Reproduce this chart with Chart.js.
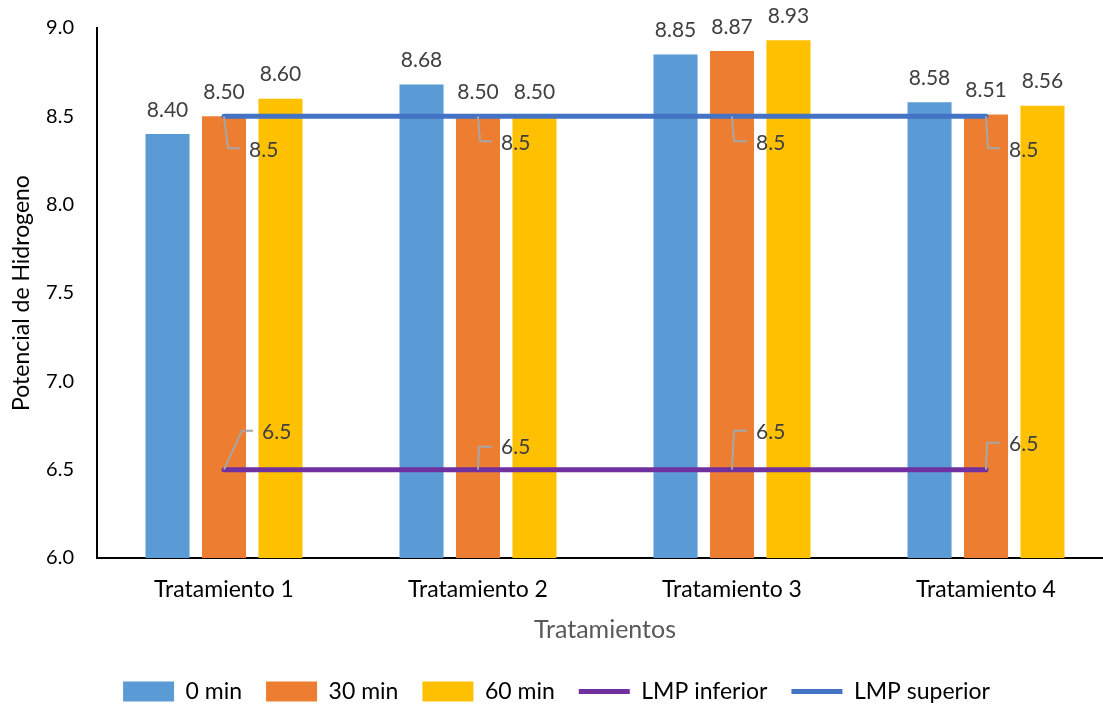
<!DOCTYPE html>
<html>
<head>
<meta charset="utf-8">
<script src="https://cdn.jsdelivr.net/npm/chart.js@4"></script>
<style>
  html, body { margin: 0; padding: 0; overflow: hidden; background: #fff; }
  #wrap { width: 1115px; height: 713px; }
</style>
</head>
<body>
<div id="wrap"><canvas id="grafico"></canvas></div>
<script>
// Datos de pH por tratamiento
const categorias = ['Tratamiento 1', 'Tratamiento 2', 'Tratamiento 3', 'Tratamiento 4'];
const min0 = [8.40, 8.68, 8.85, 8.58];
const min30 = [8.50, 8.50, 8.87, 8.51];
const min60 = [8.60, 8.50, 8.93, 8.56];
const lmpInferior = [6.5, 6.5, 6.5, 6.5];
const lmpSuperior = [8.5, 8.5, 8.5, 8.5];
const ticksY = [6.0, 6.5, 7.0, 7.5, 8.0, 8.5, 9.0];

const FONT = 'Lato, "Open Sans", sans-serif';

// Posición de las etiquetas de las líneas LMP (codo de la guía y texto, relativo al punto)
const guiasSuperior = [
  { cx: 4, cy: 32, ex: 16, tx: 25, ty: 34 },
  { cx: 2, cy: 25, ex: 14, tx: 23, ty: 27 },
  { cx: 2, cy: 25, ex: 15, tx: 24, ty: 27 },
  { cx: 2, cy: 32, ex: 14, tx: 23, ty: 34 }
];
const guiasInferior = [
  { cx: 18, cy: -39, ex: 29, tx: 38, ty: -37 },
  { cx: 1, cy: -23, ex: 14, tx: 23, ty: -22 },
  { cx: 2, cy: -39, ex: 15, tx: 24, ty: -37 },
  { cx: 1, cy: -27, ex: 14, tx: 23, ty: -25 }
];

const etiquetas = {
  id: 'etiquetas',
  afterDatasetsDraw(chart) {
    const ctx = chart.ctx;
    ctx.save();
    ctx.font = '21px ' + FONT;
    ctx.fillStyle = '#404040';
    chart.data.datasets.forEach((ds, i) => {
      const meta = chart.getDatasetMeta(i);
      if (meta.hidden) return;
      if (ds.type === 'line') {
        const guias = ds.label === 'LMP superior' ? guiasSuperior : guiasInferior;
        meta.data.forEach((pt, j) => {
          const g = guias[j];
          ctx.strokeStyle = '#A6A6A6';
          ctx.lineWidth = 2;
          ctx.beginPath();
          ctx.moveTo(pt.x, pt.y);
          ctx.lineTo(pt.x + g.cx, pt.y + g.cy);
          ctx.lineTo(pt.x + g.ex, pt.y + g.cy);
          ctx.stroke();
          ctx.textAlign = 'left';
          ctx.textBaseline = 'middle';
          ctx.fillText(String(ds.data[j]), pt.x + g.tx, pt.y + g.ty);
        });
      } else {
        meta.data.forEach((bar, j) => {
          ctx.textAlign = 'center';
          ctx.textBaseline = 'middle';
          ctx.fillText(ds.data[j].toFixed(2), bar.x, bar.y - 24);
        });
      }
    });
    ctx.restore();
  }
};

new Chart(document.getElementById('grafico'), {
  type: 'bar',
  data: {
    labels: categorias,
    datasets: [
      { label: '0 min', data: min0, backgroundColor: '#5B9BD5', pointStyle: 'rect', order: 1 },
      { label: '30 min', data: min30, backgroundColor: '#ED7D31', pointStyle: 'rect', order: 1 },
      { label: '60 min', data: min60, backgroundColor: '#FFC000', pointStyle: 'rect', order: 1 },
      { type: 'line', label: 'LMP inferior', data: lmpInferior, borderColor: '#7030A0', backgroundColor: '#7030A0',
        borderWidth: 5, borderCapStyle: 'round', pointRadius: 0, pointStyle: 'line', order: 0 },
      { type: 'line', label: 'LMP superior', data: lmpSuperior, borderColor: '#4472C4', backgroundColor: '#4472C4',
        borderWidth: 5, borderCapStyle: 'round', pointRadius: 0, pointStyle: 'line', order: 0 }
    ]
  },
  options: {
    responsive: true,
    maintainAspectRatio: false,
    animation: false,
    devicePixelRatio: 1,
    datasets: { bar: { categoryPercentage: 0.667, barPercentage: 0.78 } },
    layout: { padding: { top: 28, right: 2, left: 0, bottom: 0 } },
    plugins: {
      tooltip: { enabled: false },
      legend: {
        position: 'bottom',
        labels: {
          usePointStyle: true,
          pointStyleWidth: 51,
          boxHeight: 20,
          padding: 24,
          color: '#000',
          font: { family: FONT, size: 23 },
          sort: (a, b) => a.datasetIndex - b.datasetIndex
        }
      }
    },
    scales: {
      x: {
        grid: { display: false, drawTicks: false },
        border: { color: '#000', width: 2 },
        ticks: { color: '#000', padding: 18, font: { family: FONT, size: 23 } },
        title: { display: true, text: 'Tratamientos', color: '#595959',
                 font: { family: FONT, size: 25 }, padding: { top: 0, bottom: 11 } },
        afterFit(scale) { scale.height = 98; }
      },
      y: {
        min: 6, max: 9,
        grid: { display: false, drawTicks: false },
        border: { color: '#000', width: 2 },
        afterBuildTicks(scale) { scale.ticks = ticksY.map(v => ({ value: v })); },
        ticks: { color: '#000', padding: 23, font: { family: FONT, size: 20 },
                 callback: v => Number(v).toFixed(1) },
        title: { display: true, text: 'Potencial de Hidrogeno', color: '#000',
                 font: { family: FONT, size: 23 }, padding: { top: 8, bottom: 0 } },
        afterFit(scale) {
          scale.width = 97;
          scale.paddingTop = 0;
          scale.paddingBottom = 0;
        }
      }
    }
  },
  plugins: [etiquetas]
});
</script>
</body>
</html>
